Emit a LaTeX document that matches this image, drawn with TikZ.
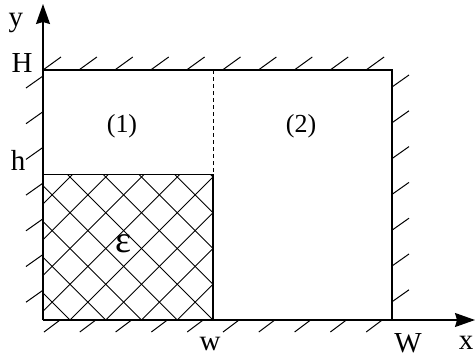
\documentclass[tikz,border=0pt]{standalone}
\usepackage{fontspec}
\setmainfont{Liberation Serif}
\usetikzlibrary{arrows.meta, positioning, calc}

\begin{document}
\begin{tikzpicture}[x=1pt, y=1pt,
  wall/.style={line width=2pt},
  axis/.style={line width=1.5pt, -{Stealth[length=20pt, width=14pt, inset=2pt]}},
  tick/.style={line width=1pt},
  grid/.style={line width=1pt},
  lbl/.style={font=\fontsize{29}{32}\selectfont, inner sep=0pt}
]
  \useasboundingbox (0,0) rectangle (475,360);

  \coordinate (O)  at (43,40);
  \coordinate (TL) at (43,290);
  \coordinate (TR) at (392,290);
  \coordinate (BR) at (392,40);
  \coordinate (hh) at (43,185.5);
  \coordinate (wb) at (213,40);
  \coordinate (wt) at (213,290);
  \coordinate (wh) at (213,185.5);
  \coordinate (ytip) at (43,356);
  \coordinate (xtip) at (475,40);

  % cross-hatched region
  \begin{scope}
    \clip (O) rectangle (wh);
    \foreach \k in {-6,...,10} {
      \draw[grid] ($(wb)+(-\k*35.75,0)$) -- ++(160,160);
      \draw[grid] ($(wb)+(-\k*35.75,0)$) -- ++(-160,160);
    }
  \end{scope}
  \draw[line width=1.3pt] (hh) -- (wh) -- (wb);
  \draw[dashed, line width=1pt, dash pattern=on 4pt off 3pt] (wt) -- (wh);

  % walls
  \draw[wall] (O) -- (TL) -- (TR) -- (BR) -- (O);
  \foreach \k in {0,...,9} {
    \draw[tick] ($(TL)+(\k*35.9,0)$) -- ++(18,13);
    \draw[tick] ($(O)+(17+\k*35.8,0)$) -- ++(-16,-12);
  }
  \foreach \k in {0,...,6} {
    \draw[tick] ($(O)+(0,244-\k*35.7)$) -- ++(-17,-12);
    \draw[tick] ($(BR)+(0,233-\k*35.8)$) -- ++(17,12);
  }

  % axes
  \draw[axis] (O) -- (ytip);
  \draw[axis, line width=1.3pt] (BR) -- (xtip);

  \node[lbl] (ylab) at (16,337) {y};
  \node[lbl] (Hlab) at (22,297) {H};
  \node[lbl] (hlab) at (18,200) {h};
  \node[lbl] (wlab) at (210,16) {w};
  \node[lbl] (Wlab) at (408,17) {W};
  \node[lbl] (xlab) at (466,17) {x};
  \node[lbl, font=\fontsize{26}{28}\selectfont] (one) at (122,234) {(1)};
  \node[lbl, font=\fontsize{26}{28}\selectfont] (two) at (301,234) {(2)};
  \node[lbl, font=\fontsize{38}{40}\selectfont] (eps) at (123,116) {ε};
\end{tikzpicture}
\end{document}
